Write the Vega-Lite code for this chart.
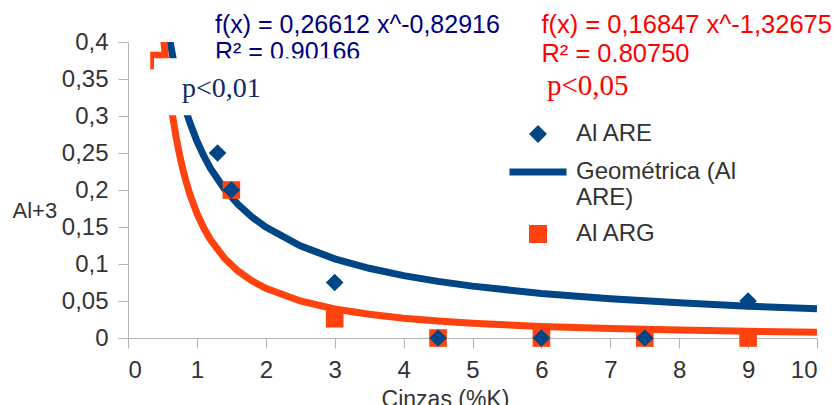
{
  "$schema": "https://vega.github.io/schema/vega-lite/v6.json",
  "width": 689,
  "height": 296,
  "autosize": {"type": "none"},
  "padding": {"left": 128, "top": 42, "right": 18, "bottom": 67},
  "background": "white",
  "config": {
    "view": {"stroke": null},
    "font": "Liberation Sans",
    "axis": {
      "grid": false,
      "domainColor": "#b3b3b3",
      "tickColor": "#b3b3b3",
      "tickSize": 10,
      "labelFont": "Liberation Sans",
      "labelFontSize": 24,
      "labelColor": "#333333",
      "labelPadding": 10,
      "titleFont": "Liberation Sans",
      "titleFontWeight": "normal",
      "titleColor": "#333333"
    },
    "legend": {
      "title": null,
      "orient": "none",
      "legendX": 398,
      "legendY": 80,
      "padding": 0,
      "symbolOffset": 0,
      "labelOffset": 26,
      "labelFont": "Liberation Sans",
      "labelFontSize": 24,
      "labelColor": "#333333",
      "labelLimit": 400,
      "rowPadding": 12
    }
  },
  "datasets": {
    "curves": [
      {"x": 0.5, "y": 0.4728, "fit": "ARE"},
      {"x": 0.55, "y": 0.4369, "fit": "ARE"},
      {"x": 0.6, "y": 0.4065, "fit": "ARE"},
      {"x": 0.65, "y": 0.3804, "fit": "ARE"},
      {"x": 0.7, "y": 0.3577, "fit": "ARE"},
      {"x": 0.75, "y": 0.3378, "fit": "ARE"},
      {"x": 0.8, "y": 0.3202, "fit": "ARE"},
      {"x": 0.85, "y": 0.3045, "fit": "ARE"},
      {"x": 0.9, "y": 0.2904, "fit": "ARE"},
      {"x": 1, "y": 0.2661, "fit": "ARE"},
      {"x": 1.1, "y": 0.2459, "fit": "ARE"},
      {"x": 1.2, "y": 0.2288, "fit": "ARE"},
      {"x": 1.4, "y": 0.2013, "fit": "ARE"},
      {"x": 1.6, "y": 0.1802, "fit": "ARE"},
      {"x": 1.8, "y": 0.1635, "fit": "ARE"},
      {"x": 2, "y": 0.1498, "fit": "ARE"},
      {"x": 2.5, "y": 0.1245, "fit": "ARE"},
      {"x": 3, "y": 0.107, "fit": "ARE"},
      {"x": 3.5, "y": 0.0942, "fit": "ARE"},
      {"x": 4, "y": 0.0843, "fit": "ARE"},
      {"x": 4.5, "y": 0.0765, "fit": "ARE"},
      {"x": 5, "y": 0.0701, "fit": "ARE"},
      {"x": 6, "y": 0.0602, "fit": "ARE"},
      {"x": 7, "y": 0.053, "fit": "ARE"},
      {"x": 8, "y": 0.0475, "fit": "ARE"},
      {"x": 9, "y": 0.043, "fit": "ARE"},
      {"x": 10, "y": 0.0394, "fit": "ARE"},
      {"x": 0.45, "y": 0.486, "fit": "ARG"},
      {"x": 0.5, "y": 0.4226, "fit": "ARG"},
      {"x": 0.55, "y": 0.3724, "fit": "ARG"},
      {"x": 0.6, "y": 0.3318, "fit": "ARG"},
      {"x": 0.65, "y": 0.2984, "fit": "ARG"},
      {"x": 0.7, "y": 0.2704, "fit": "ARG"},
      {"x": 0.75, "y": 0.2468, "fit": "ARG"},
      {"x": 0.8, "y": 0.2265, "fit": "ARG"},
      {"x": 0.85, "y": 0.209, "fit": "ARG"},
      {"x": 0.9, "y": 0.1937, "fit": "ARG"},
      {"x": 1, "y": 0.1685, "fit": "ARG"},
      {"x": 1.1, "y": 0.1485, "fit": "ARG"},
      {"x": 1.2, "y": 0.1323, "fit": "ARG"},
      {"x": 1.4, "y": 0.1078, "fit": "ARG"},
      {"x": 1.6, "y": 0.0903, "fit": "ARG"},
      {"x": 1.8, "y": 0.0772, "fit": "ARG"},
      {"x": 2, "y": 0.0672, "fit": "ARG"},
      {"x": 2.5, "y": 0.05, "fit": "ARG"},
      {"x": 3, "y": 0.0392, "fit": "ARG"},
      {"x": 3.5, "y": 0.032, "fit": "ARG"},
      {"x": 4, "y": 0.0268, "fit": "ARG"},
      {"x": 4.5, "y": 0.0229, "fit": "ARG"},
      {"x": 5, "y": 0.0199, "fit": "ARG"},
      {"x": 6, "y": 0.0156, "fit": "ARG"},
      {"x": 7, "y": 0.0127, "fit": "ARG"},
      {"x": 8, "y": 0.0107, "fit": "ARG"},
      {"x": 9, "y": 0.0091, "fit": "ARG"},
      {"x": 10, "y": 0.0079, "fit": "ARG"}
    ],
    "obs": [
      {"x": 0.45, "y": 0.375, "series": "Al ARG"},
      {"x": 1.5, "y": 0.2, "series": "Al ARG"},
      {"x": 3, "y": 0.026, "series": "Al ARG"},
      {"x": 4.5, "y": 0, "series": "Al ARG"},
      {"x": 6, "y": 0, "series": "Al ARG"},
      {"x": 7.5, "y": 0, "series": "Al ARG"},
      {"x": 9, "y": 0, "series": "Al ARG"},
      {"x": 1.3, "y": 0.25, "series": "Al ARE"},
      {"x": 1.5, "y": 0.2, "series": "Al ARE"},
      {"x": 3, "y": 0.075, "series": "Al ARE"},
      {"x": 4.5, "y": 0, "series": "Al ARE"},
      {"x": 6, "y": 0, "series": "Al ARE"},
      {"x": 7.5, "y": 0, "series": "Al ARE"},
      {"x": 9, "y": 0.05, "series": "Al ARE"}
    ]
  },
  "encoding": {
    "x": {
      "type": "quantitative",
      "scale": {"domain": [0, 10], "nice": false, "zero": false},
      "axis": {
        "values": [0, 1, 2, 3, 4, 5, 6, 7, 8, 9, 10],
        "title": "Cinzas (%K)",
        "titleFontSize": 23,
        "titleX": 317,
        "titleY": 68,
        "titleAlign": "center",
        "titleBaseline": "alphabetic",
        "titleAnchor": "start"
      }
    },
    "y": {
      "type": "quantitative",
      "scale": {"domain": [0, 0.4], "nice": false, "zero": false},
      "axis": {
        "values": [0, 0.05, 0.1, 0.15, 0.2, 0.25, 0.3, 0.35, 0.4],
        "labelExpr": "replace(format(datum.value, '~g'), '.', ',')",
        "title": "Al+3",
        "titleFontSize": 22,
        "titleAngle": 0,
        "titleX": -116,
        "titleY": 175,
        "titleAlign": "left",
        "titleBaseline": "alphabetic",
        "titleAnchor": "start"
      }
    }
  },
  "layer": [
    {
      "data": {"name": "curves"},
      "mark": {"type": "line", "strokeWidth": 7, "clip": true},
      "encoding": {
        "x": {"field": "x", "type": "quantitative"},
        "y": {"field": "y", "type": "quantitative"},
        "stroke": {
          "field": "fit",
          "type": "nominal",
          "scale": {"domain": ["ARE", "ARG"], "range": ["#004586", "#ff420e"]},
          "legend": null
        }
      }
    },
    {
      "data": {"name": "obs"},
      "mark": {"type": "point", "filled": true, "opacity": 1, "size": 310},
      "encoding": {
        "x": {"field": "x", "type": "quantitative"},
        "y": {"field": "y", "type": "quantitative"},
        "color": {
          "field": "series",
          "type": "nominal",
          "scale": {
            "domain": ["Al ARE", "Geométrica (Al ARE)", "Al ARG"],
            "range": ["#004586", "#004586", "#ff420e"]
          },
          "legend": {
            "labelExpr": "datum.label === 'Geométrica (Al ARE)' ? ['Geométrica (Al', 'ARE)'] : datum.label",
            "symbolSize": {"expr": "datum.value === 'Geométrica (Al ARE)' ? 3249 : 324"},
            "symbolStrokeColor": "#004586",
            "symbolStrokeWidth": {"expr": "datum.value === 'Geométrica (Al ARE)' ? 7 : 0"}
          }
        },
        "shape": {
          "field": "series",
          "type": "nominal",
          "scale": {
            "domain": ["Al ARE", "Geométrica (Al ARE)", "Al ARG"],
            "range": ["diamond", "stroke", "square"]
          },
          "legend": {
            "labelExpr": "datum.label === 'Geométrica (Al ARE)' ? ['Geométrica (Al', 'ARE)'] : datum.label",
            "symbolSize": {"expr": "datum.value === 'Geométrica (Al ARE)' ? 3249 : 324"},
            "symbolStrokeColor": "#004586",
            "symbolStrokeWidth": {"expr": "datum.value === 'Geométrica (Al ARE)' ? 7 : 0"}
          }
        }
      }
    },
    {
      "data": {"values": [{}]},
      "mark": {"type": "text", "text": "R² = 0.90166", "align": "left", "baseline": "alphabetic", "font": "Liberation Sans", "fontSize": 25, "color": "#000080"},
      "encoding": {"x": {"datum": 1.263}, "y": {"datum": 0.3757}}
    },
    {
      "data": {"values": [{}]},
      "mark": {"type": "rect", "fill": "white", "clip": false},
      "encoding": {"x": {"datum": 0.377}, "x2": {"datum": 3.66}, "y": {"datum": 0.378}, "y2": {"datum": 0.301}}
    },
    {
      "data": {"values": [{}]},
      "mark": {"type": "text", "text": "f(x) = 0,26612 x^-0,82916", "align": "left", "baseline": "alphabetic", "font": "Liberation Sans", "fontSize": 25, "color": "#000080"},
      "encoding": {"x": {"datum": 1.263}, "y": {"datum": 0.412}}
    },
    {
      "data": {"values": [{}]},
      "mark": {"type": "text", "text": "f(x) = 0,16847 x^-1,32675", "align": "left", "baseline": "alphabetic", "font": "Liberation Sans", "fontSize": 25.5, "color": "#ff0000"},
      "encoding": {"x": {"datum": 6.0}, "y": {"datum": 0.412}}
    },
    {
      "data": {"values": [{}]},
      "mark": {"type": "text", "text": "R² = 0.80750", "align": "left", "baseline": "alphabetic", "font": "Liberation Sans", "fontSize": 25.5, "color": "#ff0000"},
      "encoding": {"x": {"datum": 6.0}, "y": {"datum": 0.373}}
    },
    {
      "data": {"values": [{}]},
      "mark": {"type": "text", "text": "p<0,01", "align": "left", "baseline": "alphabetic", "font": "Liberation Serif", "fontSize": 28, "color": "#0f2a66"},
      "encoding": {"x": {"datum": 0.784}, "y": {"datum": 0.3257}}
    },
    {
      "data": {"values": [{}]},
      "mark": {"type": "text", "text": "p<0,05", "align": "left", "baseline": "alphabetic", "font": "Liberation Serif", "fontSize": 29, "color": "#ff0000"},
      "encoding": {"x": {"datum": 6.08}, "y": {"datum": 0.328}}
    }
  ]
}
